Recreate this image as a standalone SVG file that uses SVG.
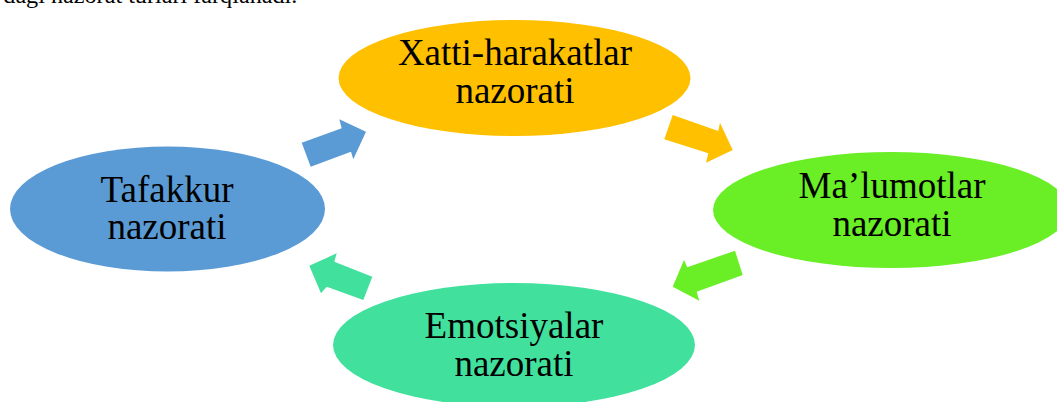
<svg xmlns="http://www.w3.org/2000/svg" width="1057" height="402" viewBox="0 0 1057 402">
<style>
text{font-family:"Liberation Serif","Times New Roman",serif;fill:#000;}
.lbl{font-size:37px;text-anchor:middle;}
.top{font-size:24px;}
</style>
<rect width="1057" height="402" fill="#fff"/>
<text class="top" x="3.3" y="3" textLength="294" lengthAdjust="spacingAndGlyphs">dagi nazorat turlari farqlanadi.</text>
<g id="connectors">
<polygon fill="#5B9BD5" points="301.7,142.7 341.7,128.3 339.3,119.3 366,131.7 353.3,159.3 351,151.7 310.7,166.7"/>
<polygon fill="#FFC000" points="672.7,115 718.3,131 720,122.7 732.7,150 706,162.7 708.3,153.3 664.3,139.3"/>
<polygon fill="#6AEE26" points="735,250.7 687.3,267.3 684,260 672.7,286.7 699.3,300.7 696.7,291.7 742.7,275"/>
<polygon fill="#41E19D" points="372.3,276.7 334.3,261.7 336.7,253.3 309.3,265.7 321,293.3 326.7,286.7 363.3,300"/>
</g>
<g id="node-xatti">
<ellipse cx="514.5" cy="78" rx="176" ry="58" fill="#FFC000"/>
<text class="lbl" x="515" y="65">Xatti-harakatlar</text>
<text class="lbl" x="515" y="103">nazorati</text>
</g>
<g id="node-malumotlar">
<ellipse cx="891" cy="210" rx="178" ry="58" fill="#6AEE26"/>
<text class="lbl" x="892" y="198">Ma’lumotlar</text>
<text class="lbl" x="892" y="236">nazorati</text>
</g>
<g id="node-tafakkur">
<ellipse cx="167.5" cy="209" rx="157.5" ry="62.5" fill="#5B9BD5"/>
<text class="lbl" x="167" y="201.7">Tafakkur</text>
<text class="lbl" x="167" y="239.3">nazorati</text>
</g>
<g id="node-emotsiyalar">
<ellipse cx="514" cy="345" rx="181" ry="62" fill="#41E19D"/>
<text class="lbl" x="514" y="338">Emotsiyalar</text>
<text class="lbl" x="514" y="376">nazorati</text>
</g>
</svg>
